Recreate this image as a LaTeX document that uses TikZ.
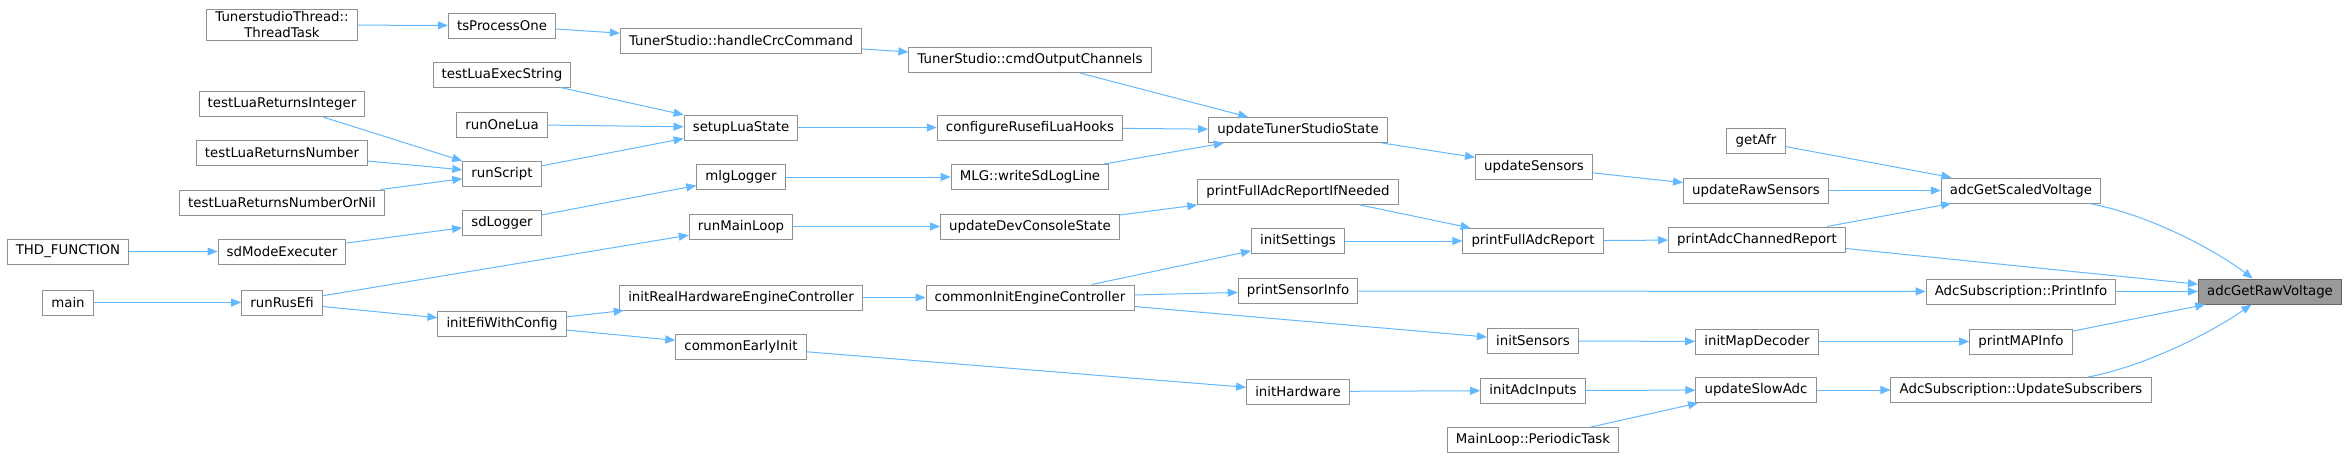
\documentclass[tikz,border=0pt]{standalone}
\usepackage{fontspec}
\setmainfont{DejaVu Sans}
\usetikzlibrary{arrows.meta}
\definecolor{callblue}{HTML}{63B8FF}
\definecolor{boxgray}{HTML}{909090}
\definecolor{curgray}{HTML}{999999}
\definecolor{curedge}{HTML}{666666}

\begin{document}
\begin{tikzpicture}[x=0.75pt,y=-0.75pt,
  fn/.style = {draw=boxgray, fill=white, line width=0.75pt, minimum height=18.75pt, inner xsep=6.5pt, inner ysep=2pt, align=center, font=\fontsize{10}{12}\selectfont},
  target/.style = {fn, fill=curgray, draw=curedge},
  call/.style = {-{Triangle[length=7.5pt,width=6pt]}, draw=callblue, line width=0.75pt}]
\useasboundingbox (0,0) rectangle (2348,458);
% column 0
\node[fn] (thd) at (68,251.5) {THD\_FUNCTION};
\node[fn] (main) at (68,302.5) {main};
% column 1
\node[fn] (ttask) at (282,25) {TunerstudioThread::\\ThreadTask};
\node[fn] (tlint) at (282,104) {testLuaReturnsInteger};
\node[fn] (tlnum) at (282,153) {testLuaReturnsNumber};
\node[fn] (tlnil) at (282,202.5) {testLuaReturnsNumberOrNil};
\node[fn] (sdmode) at (282,251.5) {sdModeExecuter};
\node[fn] (rusefi) at (282,302.5) {runRusEfi};
% column 2
\node[fn] (tsone) at (502,25.5) {tsProcessOne};
\node[fn] (tlexec) at (502,74.5) {testLuaExecString};
\node[fn] (onelua) at (502,124.5) {runOneLua};
\node[fn] (script) at (502,173.5) {runScript};
\node[fn] (sdlog) at (502,222.5) {sdLogger};
\node[fn] (initefi) at (502,324) {initEfiWithConfig};
% column 3
\node[fn] (crc) at (741,41) {TunerStudio::handleCrcCommand};
\node[fn] (lua) at (741,127.5) {setupLuaState};
\node[fn] (mlg) at (741,177) {mlgLogger};
\node[fn] (mainloop) at (741,226.5) {runMainLoop};
\node[fn] (realhw) at (741,297.5) {initRealHardwareEngineController};
\node[fn] (early) at (741,346.5) {commonEarlyInit};
% column 4
\node[fn] (outch) at (1030,60) {TunerStudio::cmdOutputChannels};
\node[fn] (hooks) at (1030,127.5) {configureRusefiLuaHooks};
\node[fn] (sdline) at (1030,177) {MLG::writeSdLogLine};
\node[fn] (devcon) at (1030,226.5) {updateDevConsoleState};
\node[fn] (cominit) at (1030,297.5) {commonInitEngineController};
% column 5
\node[fn] (tsstate) at (1298,130) {updateTunerStudioState};
\node[fn] (reportif) at (1298,192) {printFullAdcReportIfNeeded};
\node[fn] (settings) at (1298,241) {initSettings};
\node[fn] (sensinfo) at (1298,291) {printSensorInfo};
\node[fn] (inithw) at (1298,391.5) {initHardware};
% column 6
\node[fn] (updsens) at (1534,166.5) {updateSensors};
\node[fn] (fullrep) at (1533,241) {printFullAdcReport};
\node[fn] (initsens) at (1533,341) {initSensors};
\node[fn] (adcin) at (1533,390.5) {initAdcInputs};
\node[fn] (periodic) at (1533,440) {MainLoop::PeriodicTask};
% column 7
\node[fn] (getafr) at (1756,141) {getAfr};
\node[fn] (rawsens) at (1756,190.5) {updateRawSensors};
\node[fn] (chanrep) at (1757,239.5) {printAdcChannedReport};
\node[fn] (mapdec) at (1757,341.5) {initMapDecoder};
\node[fn] (slowadc) at (1756,390) {updateSlowAdc};
% column 8
\node[fn] (scaled) at (2021,190.5) {adcGetScaledVoltage};
\node[fn] (printinfo) at (2021,291.5) {AdcSubscription::PrintInfo};
\node[fn] (mapinfo) at (2021,341.5) {printMAPInfo};
\node[fn] (subscr) at (2021,390) {AdcSubscription::UpdateSubscribers};
% column 9
\node[target] (raw) at (2270,291.5) {adcGetRawVoltage};

\draw[call] (ttask) -- (tsone);
\draw[call] (tsone) -- (crc);
\draw[call] (crc) -- (outch);
\draw[call] (outch) -- (tsstate);
\draw[call] (tlexec) -- (lua);
\draw[call] (onelua) -- (lua);
\draw[call] (script) -- (lua);
\draw[call] (tlint) -- (script);
\draw[call] (tlnum) -- (script);
\draw[call] (tlnil) -- (script);
\draw[call] (lua) -- (hooks);
\draw[call] (hooks) -- (tsstate);
\draw[call] (sdlog) -- (mlg);
\draw[call] (mlg) -- (sdline);
\draw[call] (sdline) -- (tsstate);
\draw[call] (thd) -- (sdmode);
\draw[call] (sdmode) -- (sdlog);
\draw[call] (main) -- (rusefi);
\draw[call] (rusefi) -- (mainloop);
\draw[call] (rusefi) -- (initefi);
\draw[call] (mainloop) -- (devcon);
\draw[call] (devcon) -- (reportif);
\draw[call] (initefi) -- (realhw);
\draw[call] (initefi) -- (early);
\draw[call] (realhw) -- (cominit);
\draw[call] (cominit) -- (settings);
\draw[call] (cominit) -- (sensinfo);
\draw[call] (cominit) -- (initsens);
\draw[call] (early) -- (inithw);
\draw[call] (tsstate) -- (updsens);
\draw[call] (updsens) -- (rawsens);
\draw[call] (reportif) -- (fullrep);
\draw[call] (settings) -- (fullrep);
\draw[call] (fullrep) -- (chanrep);
\draw[call] (sensinfo) -- (printinfo);
\draw[call] (initsens) -- (mapdec);
\draw[call] (inithw) -- (adcin);
\draw[call] (adcin) -- (slowadc);
\draw[call] (periodic) -- (slowadc);
\draw[call] (getafr) -- (scaled);
\draw[call] (rawsens) -- (scaled);
\draw[call] (chanrep) -- (scaled);
\draw[call] (mapdec) -- (mapinfo);
\draw[call] (slowadc) -- (subscr);
\draw[call] (scaled) .. controls (2150,215) and (2215,250) .. (raw);
\draw[call] (chanrep) -- (raw);
\draw[call] (printinfo) -- (raw);
\draw[call] (mapinfo) -- (raw);
\draw[call] (subscr) .. controls (2150,365) and (2215,330) .. (raw);
\end{tikzpicture}
\end{document}
